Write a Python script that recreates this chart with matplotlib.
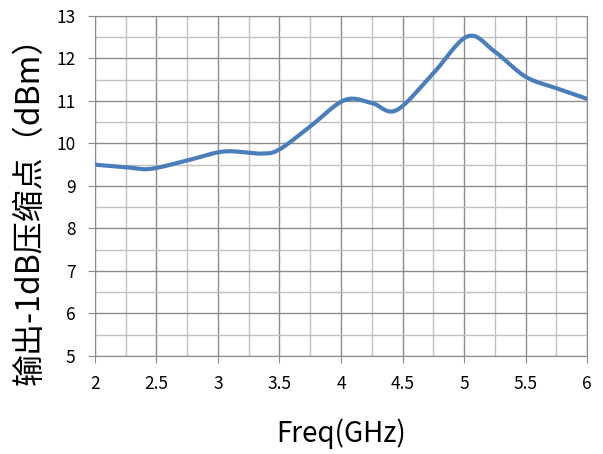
"""Output 1dB compression point vs frequency."""

import matplotlib.pyplot as plt
import numpy as np

plt.rcParams["font.family"] = ["Noto Sans CJK SC", "DejaVu Sans"]

freq = np.array([2.0, 2.25, 2.45, 2.75, 3.05, 3.35, 3.5, 3.75, 4.03,
                 4.25, 4.45, 4.75, 5.03, 5.25, 5.5, 5.75, 6.0])
p1db = np.array([9.50, 9.44, 9.40, 9.60, 9.81, 9.76, 9.86, 10.40, 11.02,
                 10.95, 10.78, 11.65, 12.52, 12.16, 11.57, 11.30, 11.05])

x_ticks = [2, 2.5, 3, 3.5, 4, 4.5, 5, 5.5, 6]
x_tick_labels = ["2", "2.5", "3", "3.5", "4", "4.5", "5", "5.5", "6"]
y_ticks = [5, 6, 7, 8, 9, 10, 11, 12, 13]


def catmull_rom(x, y, steps=30):
    # smooth line through the points, like a spreadsheet "smoothed line"
    px = np.concatenate([[2 * x[0] - x[1]], x, [2 * x[-1] - x[-2]]])
    py = np.concatenate([[2 * y[0] - y[1]], y, [2 * y[-1] - y[-2]]])
    out_x, out_y = [], []
    t = np.linspace(0, 1, steps, endpoint=False)
    for i in range(1, len(px) - 2):
        for arr, out in ((px, out_x), (py, out_y)):
            p0, p1, p2, p3 = arr[i - 1], arr[i], arr[i + 1], arr[i + 2]
            out.extend(0.5 * (2 * p1 + (-p0 + p2) * t
                              + (2 * p0 - 5 * p1 + 4 * p2 - p3) * t ** 2
                              + (-p0 + 3 * p1 - 3 * p2 + p3) * t ** 3))
    out_x.append(x[-1])
    out_y.append(y[-1])
    return np.array(out_x), np.array(out_y)


fig = plt.figure(figsize=(6.03, 4.54), dpi=100)
ax = fig.add_axes([0.1575, 0.216, 0.816, 0.749])

sx, sy = catmull_rom(freq, p1db)
ax.plot(sx, sy, color="#4A7EBB", linewidth=3.0, solid_capstyle="round", zorder=3)

ax.set_xlim(2, 6)
ax.set_ylim(5, 13)
ax.set_xticks(x_ticks)
ax.set_xticklabels(x_tick_labels)
ax.set_yticks(y_ticks)
ax.set_xticks(np.arange(2.25, 6, 0.5), minor=True)
ax.set_yticks(np.arange(5.5, 13, 1.0), minor=True)
ax.grid(which="major", color="#8C8C8C", linewidth=1.0)
ax.grid(which="minor", color="#C0C0C0", linewidth=1.0)
ax.tick_params(which="major", direction="out", length=5, color="#8C8C8C",
               labelsize=12.5, pad=9)
ax.tick_params(which="minor", length=0)
for side in ("top", "right", "left", "bottom"):
    ax.spines[side].set_color("#8C8C8C")

ax.set_xlabel("Freq(GHz)", fontsize=20, labelpad=18)
ax.set_ylabel("输出-1dB压缩点（dBm）", fontsize=23)
ax.yaxis.set_label_coords(-0.10, 0.45)

fig.savefig("out.png", dpi=100)
plt.close(fig)
